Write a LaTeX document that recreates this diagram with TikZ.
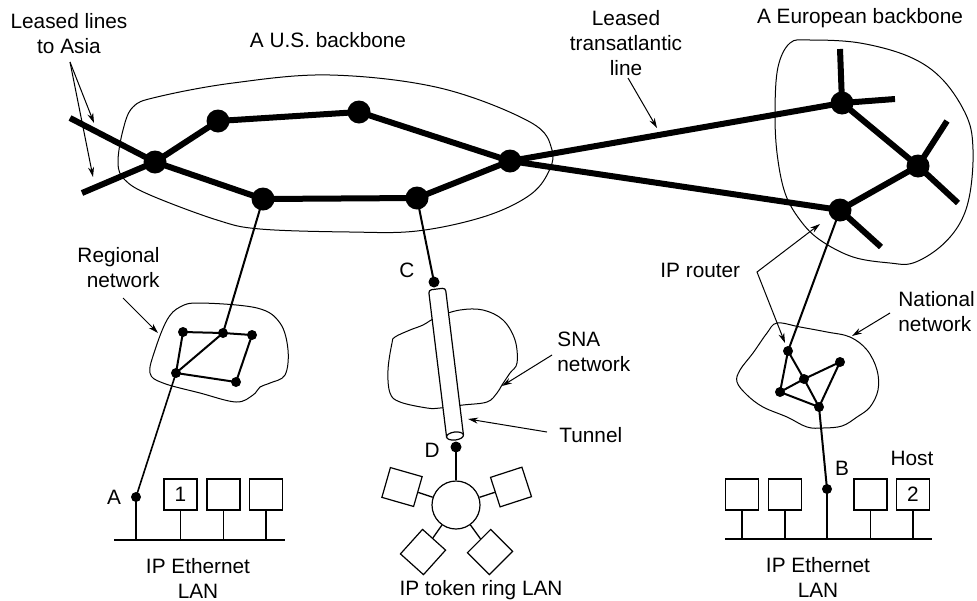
\documentclass[tikz,border=0pt]{standalone}
\usepackage{fontspec}
\setmainfont{Liberation Sans}
\usetikzlibrary{arrows.meta}
\begin{document}
\begin{tikzpicture}[x=0.5pt,y=-0.5pt,
  font=\fontsize{10.4}{12.5}\selectfont,
  trunk/.style={line width=3pt},
  bigdot/.style={circle,fill=black,inner sep=0pt,minimum size=11.5pt},
  smalldot/.style={circle,fill=black,inner sep=0pt,minimum size=5pt},
  link/.style={line width=1pt},
  drop/.style={line width=0.65pt},
  cloud/.style={line width=0.5pt},
  callout/.style={line width=0.5pt,-{Stealth[length=5pt,width=3pt]}},
  hostbox/.style={draw,line width=0.6pt,fill=white,inner sep=0pt,
    minimum width=16.5pt,minimum height=15.5pt},
  lbl/.style={inner sep=0pt}]
\useasboundingbox (0,0) rectangle (977,600);

% ---------- outlines of the networks ----------
\draw[cloud] plot[smooth cycle, tension=0.6] coordinates {
  (118,163) (123,130) (133,107) (157,97) (233,83) (330,75) (440,88)
  (530,122) (552,150) (547,175) (527,197) (483,217) (417,231) (350,232)
  (260,229) (217,220) (150,195) (125,180)};
\draw[cloud] plot[smooth cycle, tension=0.6] coordinates {
  (790,43) (810,40) (860,43) (910,57) (943,80) (967,117) (973,150)
  (970,193) (960,223) (940,247) (913,263) (890,263) (853,257) (820,240)
  (800,220) (785,193) (777,153) (775,110) (778,67)};
\draw[cloud] plot[smooth cycle, tension=0.6] coordinates {
  (180,307) (200,303) (257,308) (280,323) (288,350) (285,375) (270,383)
  (260,387) (253,395) (236,402) (200,393) (163,383) (150,373) (155,350)
  (167,320)};
\draw[cloud] plot[smooth cycle, tension=0.6] coordinates {
  (395,337) (410,330) (423,325) (437,317) (460,310) (483,310) (503,320)
  (515,340) (517,363) (510,373) (502,385) (497,393) (487,402) (463,405)
  (440,408) (427,408) (400,402) (390,393) (388,370) (392,343)};
\draw[cloud] plot[smooth cycle, tension=0.6] coordinates {
  (777,323) (800,327) (827,332) (850,337) (867,350) (877,370) (878,390)
  (870,407) (857,417) (842,426) (823,428) (807,427) (787,417) (763,407)
  (747,395) (737,382) (740,370) (753,353) (767,333)};

% ---------- backbone routers ----------
\node[bigdot] (n1) at (155,162) {};
\node[bigdot] (n2) at (218,121) {};
\node[bigdot] (n3) at (263,199) {};
\node[bigdot] (n4) at (359,112) {};
\node[bigdot] (n5) at (417,198) {};
\node[bigdot] (n6) at (510,161) {};
\node[bigdot] (e1) at (842,103) {};
\node[bigdot] (e2) at (918,166) {};
\node[bigdot] (e3) at (840,210) {};
\coordinate (asiaA) at (70,118);
\coordinate (asiaB) at (82,193);
\coordinate (e1up) at (840,49);
\coordinate (e1rt) at (895,99);
\coordinate (e2up) at (947,121);
\coordinate (e2dn) at (958,203);
\coordinate (e3dn) at (881,247);

\draw[trunk] (asiaA) -- (n1.center);
\draw[trunk] (asiaB) -- (n1.center);
\draw[trunk] (n1.center) -- (n2.center) -- (n4.center) -- (n6.center);
\draw[trunk] (n1.center) -- (n3.center) -- (n5.center) -- (n6.center);
\draw[trunk] (n6.center) -- (e1.center);
\draw[trunk] (n6.center) -- (e3.center);
\draw[trunk] (e1.center) -- (e2.center) -- (e3.center);
\draw[trunk] (e1.center) -- (e1up);
\draw[trunk] (e1.center) -- (e1rt);
\draw[trunk] (e2.center) -- (e2up);
\draw[trunk] (e2.center) -- (e2dn);
\draw[trunk] (e3.center) -- (e3dn);

% ---------- regional network ----------
\node[smalldot] (r1) at (183,332) {};
\node[smalldot] (r2) at (223,333) {};
\node[smalldot] (r3) at (252,335) {};
\node[smalldot] (r4) at (176,373) {};
\node[smalldot] (r5) at (236,382) {};
\draw[link] (r1.center) -- (r2.center) -- (r3.center) -- (r5.center)
  -- (r4.center) -- (r1.center);
\draw[link] (r4.center) -- (r2.center);
\draw[link] (n3.center) -- (r2.center);

% ---------- national network ----------
\node[smalldot] (p1) at (788,351) {};
\node[smalldot] (p2) at (840,362) {};
\node[smalldot] (p3) at (804,379) {};
\node[smalldot] (p4) at (780,392) {};
\node[smalldot] (p5) at (819,407) {};
\draw[link] (p1.center) -- (p3.center) -- (p5.center);
\draw[link] (p1.center) -- (p4.center) -- (p3.center) -- (p2.center)
  -- (p5.center) -- (p4.center);
\draw[link] (e3.center) -- (p1.center);

% ---------- left Ethernet LAN ----------
\coordinate (busLw) at (114,540);
\coordinate (busLe) at (285,540);
\draw[drop] (busLw) -- (busLe);
\node[smalldot] (ha) at (136,497) {};
\node[hostbox] (h1) at (180.5,494.5) {1};
\node[hostbox] (h2) at (223.5,494.5) {};
\node[hostbox] (h3) at (266,494.5) {};
\draw[link,line width=0.8pt] (r4.center) -- (ha.center);
\draw[drop] (ha.center) -- (ha |- busLw);
\foreach \h in {h1,h2,h3} \draw[drop] (\h.south) -- (\h.south |- busLw);

% ---------- right Ethernet LAN ----------
\coordinate (busRw) at (725,539);
\coordinate (busRe) at (932,539);
\draw[drop] (busRw) -- (busRe);
\node[smalldot] (hb) at (827,489) {};
\node[hostbox] (k1) at (742,494.5) {};
\node[hostbox] (k2) at (785,494.5) {};
\node[hostbox] (k3) at (870.5,494.5) {};
\node[hostbox] (k4) at (913,494.5) {2};
\draw[link] (p5.center) -- (hb.center);
\draw[drop] (hb.center) -- (hb |- busRw);
\foreach \h in {k1,k2,k3,k4} \draw[drop] (\h.south) -- (\h.south |- busRw);

% ---------- tunnel through the SNA network ----------
\node[smalldot,minimum size=5.5pt] (tc) at (434,282) {};
\node[smalldot,minimum size=5.5pt] (td) at (456,447) {};
\draw[link] (n5.center) -- (tc.center);
\fill[white] (446.56,437.03) -- (428.56,290.03) -- (445.44,287.97)
  -- (463.44,434.97) -- cycle;
\draw[line width=0.6pt, rounded corners=1.5pt] (446.56,437.03) -- (428.56,290.03)
  -- (445.44,287.97) -- (463.44,434.97);
\draw[line width=0.6pt, fill=white, rotate around={7:(455,436)}]
  (455,436) ellipse [x radius=4.25pt, y radius=2pt];

% ---------- token ring ----------
\node[draw,circle,line width=0.6pt,fill=white,inner sep=0pt,
  minimum size=24pt] (ring) at (456,505) {};
\node[hostbox,rotate=-16] (t1) at (402,487) {};
\node[hostbox,rotate=18] (t2) at (511,487) {};
\node[hostbox,rotate=48] (t3) at (423,552) {};
\node[hostbox,rotate=45] (t4) at (490,552) {};
\draw[drop] (td.center) -- (ring);
\foreach \t in {t1,t2,t3,t4} \draw[drop] (ring) -- (\t);

% ---------- labels ----------
\node[lbl,align=center] (lasia) at (69,34) {Leased lines\\to Asia};
\node[lbl] (lus) at (328,40) {A U.S. backbone};
\node[lbl,align=center] (ltrans) at (626,43) {Leased\\transatlantic\\line};
\node[lbl] (leu) at (860,18) {A European backbone};
\node[lbl,align=right,anchor=east] (lreg) at (160,268) {Regional\\network};
\node[lbl,anchor=west] (lrouter) at (660,270) {IP router};
\node[lbl,align=left,anchor=west] (lnat) at (898,312) {National\\network};
\node[lbl,align=left,anchor=west] (lsna) at (557,352) {SNA\\network};
\node[lbl,anchor=west] (ltun) at (559,435) {Tunnel};
\node[lbl] (lc) at (407,270) {C};
\node[lbl] (ld) at (432,450) {D};
\node[lbl] (la) at (114,497) {A};
\node[lbl] (lb) at (842,468) {B};
\node[lbl] (lhost) at (912,458) {Host};
\node[lbl,align=center] (lethL) at (198,578) {IP Ethernet\\LAN};
\node[lbl,align=center] (lethR) at (818,577) {IP Ethernet\\LAN};
\node[lbl] (lring) at (481,590) {IP token ring LAN};

% ---------- callout arrows ----------
\coordinate (asiaTail) at (70,62);
\draw[callout] (asiaTail) -- (94,123);
\draw[callout] (asiaTail) -- (93,177);
\coordinate (transTail) at (628,78);
\draw[callout] (transTail) -- (657,128);
\coordinate (regTail) at (123,298);
\draw[callout] (regTail) -- (158,333);
\coordinate (snaTail) at (552,355);
\draw[callout] (snaTail) -- (502,386);
\coordinate (tunTail) at (547,432);
\draw[callout] (tunTail) -- (468,419);
\coordinate (natTail) at (890,313);
\draw[callout] (natTail) -- (852,336);
\coordinate (routerBend) at (757,272);
\draw[line width=0.5pt,{Stealth[length=5pt,width=3pt]}-{Stealth[length=5pt,width=3pt]}]
  (820,224) -- (routerBend) -- (785,343);
\end{tikzpicture}
\end{document}
